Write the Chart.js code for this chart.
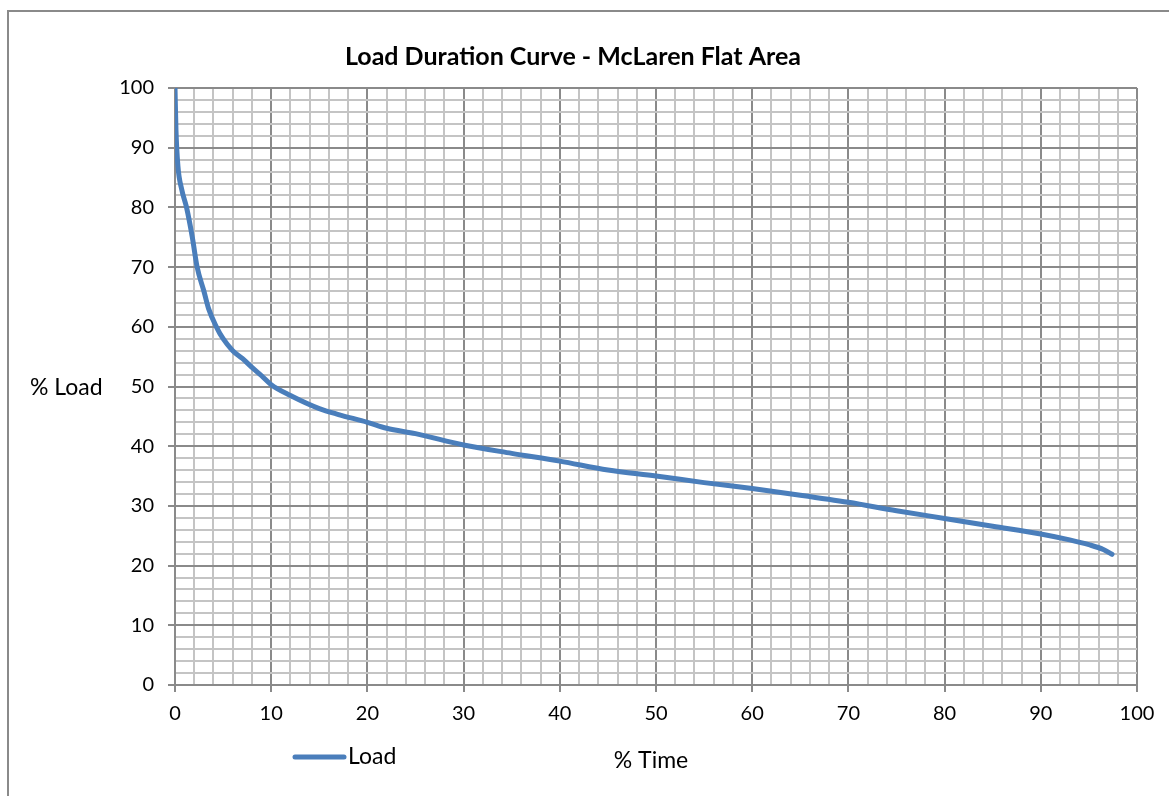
<!DOCTYPE html>
<html>
<head>
<meta charset="utf-8">
<script src="https://cdn.jsdelivr.net/npm/chart.js@4.4.1/dist/chart.umd.min.js"></script>
<style>
  html, body { margin: 0; padding: 0; background: #fff; }
  #wrap { position: relative; width: 1169px; height: 796px; }
</style>
</head>
<body>
<div id="wrap"><canvas id="ldc" width="1169" height="796"></canvas></div>
<script>
// 값 데이터
const timePct = [0, 0.1, 0.3, 0.7, 1.2, 1.8, 2.3, 3, 3.5, 4.3, 5, 6, 7, 8, 9, 10, 12, 15, 17, 20, 22, 25, 30, 35, 40, 45, 50, 55, 60, 65, 70, 75, 80, 85, 90, 93, 95, 96.5, 97.4];
const loadPct = [100, 93, 87, 83, 80, 75, 70, 66, 63, 60, 58, 56, 54.7, 53.2, 51.8, 50.3, 48.5, 46.3, 45.3, 44, 43, 42.1, 40.2, 38.8, 37.5, 36, 35, 33.9, 32.9, 31.8, 30.6, 29.2, 27.9, 26.6, 25.3, 24.3, 23.5, 22.7, 21.9];
const majorStep = 10;
const minorStep = 2;

const chartTitle = 'Load Duration Curve - McLaren Flat Area';
const yLabel = '% Load';
const xLabel = '% Time';
const seriesName = 'Load';

const FONT = 'Lato, "Liberation Sans", sans-serif';
const lineBlue = '#4a7ebb';
const majorGrid = '#8a8a8a';
const minorGrid = '#c4c4c4';

const points = timePct.map((t, i) => ({ x: t, y: loadPct[i] }));

// 제목, 축 이름, 범례를 직접 그리는 플러그인
const textPlugin = {
    id: 'excelText',
    beforeDraw(chart) {
        const c = chart.ctx;
        c.save();
        c.strokeStyle = '#8a8a8a';
        c.lineWidth = 2;
        c.strokeRect(8, 11, 1300, 900); // 바깥 테두리 (오른쪽/아래는 잘림)
        c.restore();
    },
    afterDraw(chart) {
        const c = chart.ctx;
        c.save();
        c.fillStyle = '#000';
        c.textBaseline = 'middle';
        c.font = 'bold 25px ' + FONT;
        c.textAlign = 'center';
        c.fillText(chartTitle, 573, 57);
        c.font = '23px ' + FONT;
        c.textAlign = 'left';
        c.fillText(yLabel, 30, 388);
        c.textAlign = 'center';
        c.fillText(xLabel, 651, 761);
        // 범례
        c.strokeStyle = lineBlue;
        c.lineWidth = 5;
        c.lineCap = 'round';
        c.beginPath();
        c.moveTo(295, 757);
        c.lineTo(344, 757);
        c.stroke();
        c.textAlign = 'left';
        c.fillText(seriesName, 348, 757);
        c.restore();
    }
};

const isMajor = v => Math.round(v) % majorStep === 0;

const ctx = document.getElementById('ldc').getContext('2d');
const chart = new Chart(ctx, {
    type: 'scatter',
    data: {
        datasets: [{
            label: seriesName,
            data: points,
            showLine: true,
            borderColor: lineBlue,
            backgroundColor: lineBlue,
            borderWidth: 5,
            borderCapStyle: 'round',
            pointRadius: 0,
            tension: 0.4,
            cubicInterpolationMode: 'monotone'
        }]
    },
    options: {
        responsive: false,
        animation: false,
        layout: { padding: { top: 88, right: 32, bottom: 71, left: 0 } },
        plugins: {
            legend: { display: false },
            title: { display: false },
            tooltip: { enabled: false }
        },
        scales: {
            x: {
                type: 'linear',
                min: 0,
                max: 100,
                afterFit(scale) { scale.height = 40; },
                ticks: {
                    stepSize: minorStep,
                    autoSkip: false,
                    maxRotation: 0,
                    padding: 10,
                    color: '#000',
                    font: { family: FONT, size: 20 },
                    callback: v => isMajor(v) ? String(v) : ''
                },
                grid: {
                    color: c => isMajor(c.tick.value) ? majorGrid : minorGrid,
                    lineWidth: 2,
                    tickLength: 7,
                    tickColor: c => isMajor(c.tick.value) ? majorGrid : 'rgba(0,0,0,0)',
                    tickWidth: 2
                },
                border: { color: majorGrid, width: 2 }
            },
            y: {
                type: 'linear',
                min: 0,
                max: 100,
                afterFit(scale) { scale.width = 175; },
                ticks: {
                    stepSize: minorStep,
                    autoSkip: false,
                    padding: 14,
                    color: '#000',
                    font: { family: FONT, size: 20 },
                    callback: v => isMajor(v) ? String(v) : ''
                },
                grid: {
                    color: c => isMajor(c.tick.value) ? majorGrid : minorGrid,
                    lineWidth: 2,
                    tickLength: 7,
                    tickColor: c => isMajor(c.tick.value) ? majorGrid : 'rgba(0,0,0,0)',
                    tickWidth: 2
                },
                border: { color: majorGrid, width: 2 }
            }
        }
    },
    plugins: [textPlugin]
});
</script>
</body>
</html>
